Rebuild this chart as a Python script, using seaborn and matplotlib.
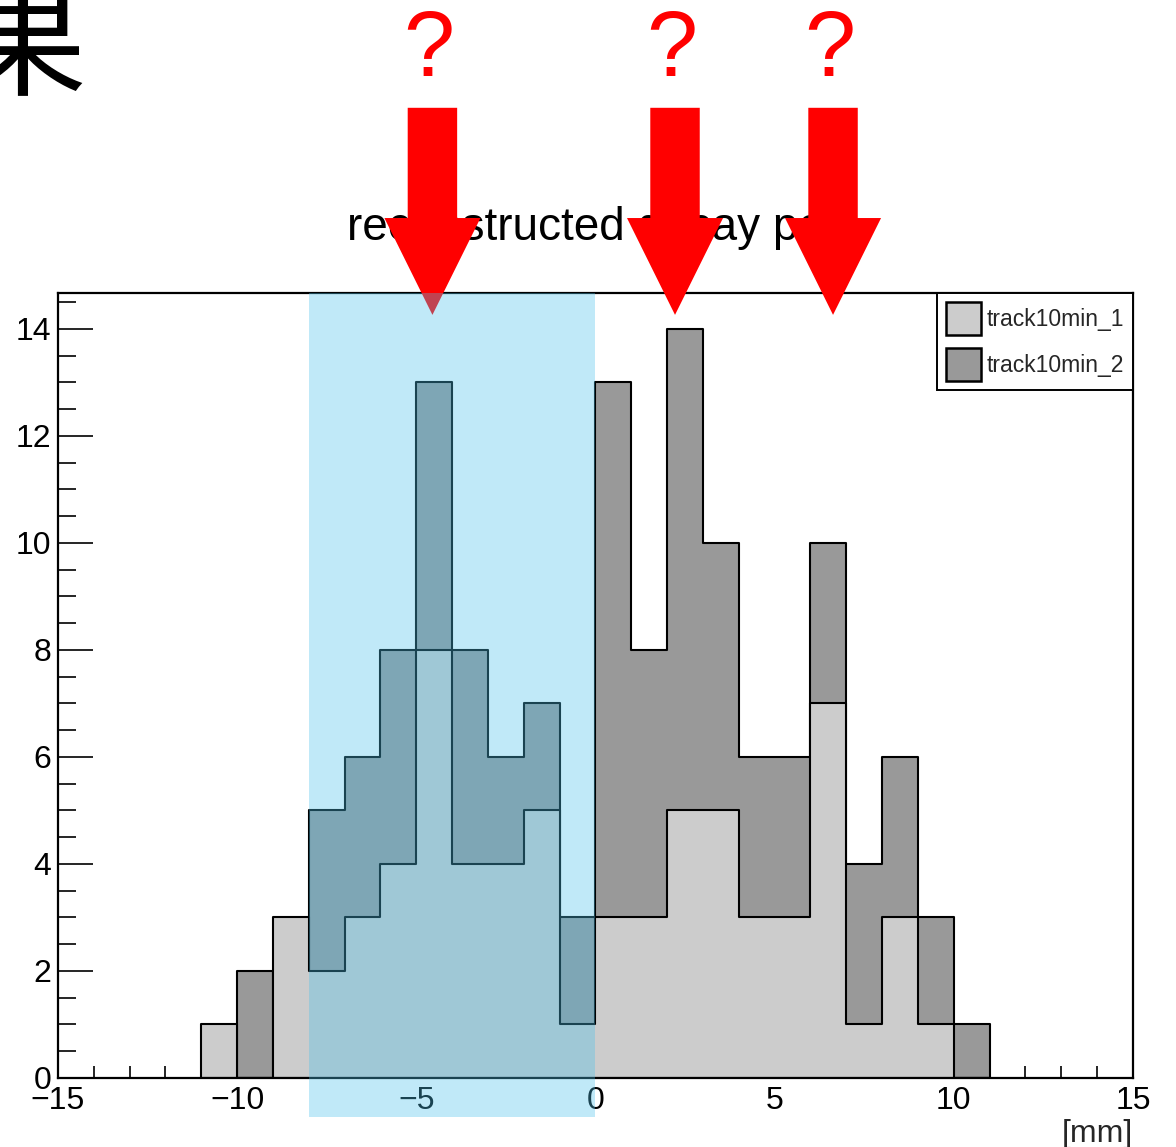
import matplotlib
matplotlib.use("Agg")
import matplotlib.pyplot as plt
import seaborn as sns
import numpy as np
import pandas as pd
from matplotlib.patches import Patch, FancyArrow
from matplotlib.ticker import MultipleLocator

# histogram contents, 1 mm bins from -11 to 11 mm
bin_lo = list(range(-11, 11))
track1 = [1, 0, 3, 2, 3, 4, 8, 4, 4, 5, 1, 3, 3, 5, 5, 3, 3, 7, 1, 3, 1, 0]
track2 = [0, 2, 0, 5, 6, 8, 13, 8, 6, 7, 3, 13, 8, 14, 10, 6, 6, 10, 4, 6, 3, 1]
labels = ["track10min_1", "track10min_2"]
colors = ["#cccccc", "#999999"]

# annotations on top of the slide
arrow_x = [-4.55, 2.22, 6.63]
band_x = (-8.0, 0.0)
title = "reconstructed decay pos"

df = pd.DataFrame({"x": np.array(bin_lo) + 0.5,
                   labels[0]: track1,
                   labels[1]: track2})
edges = [float(e) for e in range(bin_lo[0], bin_lo[-1] + 2)]

sns.set_style("white")
plt.rcParams["font.family"] = ["Liberation Sans", "DejaVu Sans"]

fig = plt.figure(figsize=(11.76, 11.47), dpi=100)
ax = fig.add_axes([0.0493, 0.0602, 0.9141, 0.6844])

# second track drawn first, first track layered on top (ROOT "same")
for name, col in [(labels[1], colors[1]), (labels[0], colors[0])]:
    sns.histplot(data=df, x="x", weights=name, bins=edges, element="step",
                 fill=True, color=col, alpha=1, edgecolor="black",
                 linewidth=1.5, ax=ax, zorder=2)

ax.set_xlim(-15, 15)
ax.set_ylim(0, 14.67)
ax.set_ylabel("")
ax.set_xlabel("[mm]", loc="right", fontsize=23, labelpad=2)

for s in ax.spines.values():
    s.set_linewidth(1.6)
    s.set_color("black")
    s.set_zorder(3)

ax.xaxis.set_major_locator(MultipleLocator(5))
ax.xaxis.set_minor_locator(MultipleLocator(1))
ax.yaxis.set_major_locator(MultipleLocator(2))
ax.yaxis.set_minor_locator(MultipleLocator(0.5))
ax.tick_params(axis="both", which="both", direction="in", bottom=True, left=True,
               top=False, right=False, width=1.2, colors="black", labelsize=23)
ax.tick_params(axis="x", which="major", length=17, pad=6)
ax.tick_params(axis="x", which="minor", length=9)
ax.tick_params(axis="y", which="major", length=25, pad=5)
ax.tick_params(axis="y", which="minor", length=13)

handles = [Patch(facecolor=c, edgecolor="black", linewidth=1.8) for c in colors]
leg = ax.legend(handles, labels, loc="upper right", bbox_to_anchor=(1, 1),
                borderaxespad=0, fontsize=16.5, frameon=True, fancybox=False,
                handlelength=1.5, handleheight=1.8, handletextpad=0.25,
                labelspacing=0.6, borderpad=0.4)
leg.get_frame().set_edgecolor("black")
leg.get_frame().set_linewidth(1.4)
leg.get_frame().set_alpha(1)
leg.set_zorder(4)

ax.text(0.269, 1.0675, title, transform=ax.transAxes, fontsize=33,
        ha="left", va="baseline", color="black", zorder=4, clip_on=False)

# red arrows with question marks
for xa in arrow_x:
    arr = FancyArrow(xa, 18.13, 0, -3.87, width=1.38, head_width=2.68,
                     head_length=1.81, length_includes_head=True,
                     color="#ff0000", linewidth=0, zorder=6, clip_on=False)
    ax.add_patch(arr)
    ax.text(xa - 0.1, 18.72, "?", fontsize=66, color="#ff0000", ha="center",
            va="baseline", zorder=6, clip_on=False)

# highlighted region
ax.axvspan(band_x[0], band_x[1], ymin=-0.0497, ymax=1.0, color="#4cc1eb",
           alpha=0.35, linewidth=0, zorder=7, clip_on=False)

fig.text(22 / 1176, 1 - 50 / 1147, "果", fontsize=92, ha="center", va="center",
         family=["Noto Sans CJK JP", "DejaVu Sans"], color="black")

fig.savefig("out.png", dpi=100)
